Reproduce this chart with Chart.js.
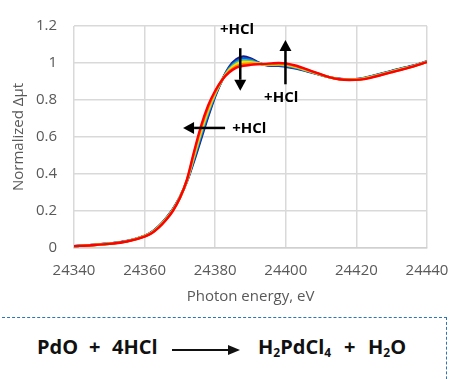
<!DOCTYPE html>
<html>
<head>
<meta charset="utf-8">
<script src="https://cdn.jsdelivr.net/npm/chart.js@4.4.1/dist/chart.umd.min.js"></script>
<style>
  body { margin: 0; background: #fff; width: 450px; height: 379px; overflow: hidden; position: relative; font-family: "Open Sans", sans-serif; }
  #wrap { position: absolute; left: 0; top: 0; width: 450px; height: 310px; }
  #box { position: absolute; left: -3px; top: 317px; width: 448px; height: 90px; border: 1.5px dashed #2e75b6; }
  .eq { position: absolute; top: 333px; font-weight: 700; font-size: 20px; color: #111; white-space: nowrap; }
  .eq sub { font-size: 12px; vertical-align: -3px; line-height: 0; }
  #arr { position: absolute; left: 172px; top: 344px; }
</style>
</head>
<body>
<div id="wrap"><canvas id="chart"></canvas></div>
<div id="box"></div>
<span class="eq" style="left:37px">PdO</span>
<span class="eq" style="left:89px">+</span>
<span class="eq" style="left:112px">4HCl</span>
<svg id="arr" width="70" height="12"><line x1="0" y1="6" x2="60" y2="6" stroke="#111" stroke-width="2"/><polygon points="56,1 68,6 56,11" fill="#111"/></svg>
<span class="eq" style="left:258px">H<sub>2</sub>PdCl<sub>4</sub></span>
<span class="eq" style="left:344px">+</span>
<span class="eq" style="left:368px">H<sub>2</sub>O</span>
<script>
// --- données ---
const energies = [24340,24345,24350,24355,24360,24362,24364,24366,24368,24370,24372,24374,24376,24378,24380,24382,24384,24386,24388,24390,24392,24394,24396,24398,24400,24403,24406,24409,24412,24415,24418,24421,24424,24427,24430,24433,24436,24440];

const navy   = [.010,.016,.024,.038,.066,.086,.118,.160,.210,.275,.360,.470,.590,.710,.820,.910,.980,1.020,1.035,1.025,1.005,.990,.985,.985,.980,.970,.955,.940,.925,.915,.912,.915,.928,.942,.957,.972,.985,1.008];
const blue   = [.010,.016,.024,.037,.065,.085,.116,.158,.208,.274,.362,.480,.604,.722,.826,.910,.974,1.011,1.025,1.018,1.003,.991,.988,.988,.984,.973,.957,.941,.925,.914,.911,.914,.926,.941,.956,.971,.984,1.007];
const cyan   = [.010,.015,.023,.037,.064,.084,.115,.156,.206,.273,.364,.490,.618,.734,.832,.910,.968,1.002,1.015,1.011,1.000,.992,.990,.991,.987,.976,.959,.942,.925,.914,.910,.913,.925,.939,.954,.969,.983,1.007];
const green  = [.010,.015,.023,.036,.064,.083,.114,.155,.205,.272,.365,.495,.625,.740,.835,.910,.965,.998,1.010,1.008,.999,.992,.991,.992,.989,.977,.960,.942,.925,.913,.910,.912,.924,.938,.953,.968,.982,1.006];
const yellow = [.010,.015,.023,.036,.064,.082,.113,.154,.204,.272,.366,.500,.632,.746,.838,.910,.962,.993,1.005,1.004,.998,.993,.993,.994,.991,.979,.961,.943,.925,.913,.910,.912,.923,.938,.953,.968,.982,1.006];
const orange = [.010,.015,.022,.036,.063,.081,.112,.152,.202,.271,.368,.510,.646,.758,.844,.910,.956,.984,.995,.997,.995,.994,.995,.997,.994,.982,.963,.944,.925,.913,.909,.911,.922,.936,.951,.966,.981,1.006];
const red    = [.010,.015,.022,.035,.062,.080,.110,.150,.200,.270,.370,.520,.660,.770,.850,.910,.950,.975,.985,.990,.993,.995,.998,1.000,.998,.985,.965,.945,.925,.912,.908,.910,.920,.935,.950,.965,.980,1.005];

const xTicks = [24340, 24360, 24380, 24400, 24420, 24440];
const yTicks = [0, 0.2, 0.4, 0.6, 0.8, 1, 1.2];

// flèches et textes "+HCl" (coordonnées des axes)
const arrows = [
  { x1: 24387.1, y1: 1.08, x2: 24387.1, y2: 0.85 },
  { x1: 24399.9, y1: 0.885, x2: 24399.9, y2: 1.125 },
  { x1: 24382.8, y1: 0.649, x2: 24370.9, y2: 0.649 }
];
const labels = [
  { x: 24386.2, y: 1.182, align: 'center', text: '+HCl' },
  { x: 24398.7, y: 0.812, align: 'center', text: '+HCl' },
  { x: 24384.8, y: 0.644, align: 'left', text: '+HCl' }
];

// --- construction ---
const series = [
  { d: red, c: '#ff0000' },
  { d: orange, c: '#ff8a00' },
  { d: yellow, c: '#ffe000' },
  { d: green, c: '#5cc85c' },
  { d: cyan, c: '#14c0e8' },
  { d: blue, c: '#1060e0' },
  { d: navy, c: '#1c1a80' }
];

const datasets = series.map(s => ({
  data: energies.map((e, i) => ({ x: e, y: s.d[i] })),
  borderColor: s.c,
  borderWidth: 2.4,
  pointRadius: 0,
  fill: false,
  cubicInterpolationMode: 'monotone'
}));

const annot = {
  id: 'annot',
  afterDatasetsDraw(chart) {
    const { ctx, scales: { x, y } } = chart;
    ctx.save();
    ctx.strokeStyle = '#000';
    ctx.fillStyle = '#000';
    ctx.lineWidth = 2.5;
    arrows.forEach(a => {
      const px1 = x.getPixelForValue(a.x1), py1 = y.getPixelForValue(a.y1);
      const px2 = x.getPixelForValue(a.x2), py2 = y.getPixelForValue(a.y2);
      const ang = Math.atan2(py2 - py1, px2 - px1);
      const hl = 11, hw = 6;
      const bx = px2 - hl * Math.cos(ang), by = py2 - hl * Math.sin(ang);
      ctx.beginPath();
      ctx.moveTo(px1, py1);
      ctx.lineTo(bx, by);
      ctx.stroke();
      ctx.beginPath();
      ctx.moveTo(px2, py2);
      ctx.lineTo(bx + hw * Math.sin(ang), by - hw * Math.cos(ang));
      ctx.lineTo(bx - hw * Math.sin(ang), by + hw * Math.cos(ang));
      ctx.closePath();
      ctx.fill();
    });
    ctx.font = 'bold 15px "Open Sans"';
    ctx.textBaseline = 'middle';
    labels.forEach(l => {
      ctx.textAlign = l.align;
      ctx.fillText(l.text, x.getPixelForValue(l.x), y.getPixelForValue(l.y));
    });
    ctx.restore();
  }
};

new Chart(document.getElementById('chart'), {
  type: 'line',
  data: { datasets },
  options: {
    responsive: true,
    maintainAspectRatio: false,
    animation: false,
    layout: { padding: { top: 14, right: 0, left: 0, bottom: 0 } },
    plugins: { legend: { display: false }, tooltip: { enabled: false } },
    scales: {
      x: {
        type: 'linear',
        min: 24340, max: 24440,
        afterBuildTicks: s => { s.ticks = xTicks.map(v => ({ value: v })); },
        afterFit: s => { s.height = 62; s.paddingRight = 23; s.paddingLeft = 0; },
        grid: { color: '#d9d9d9', lineWidth: 1.5, drawTicks: false },
        border: { color: '#d0d0d0', width: 1.5 },
        ticks: { color: '#595959', font: { family: 'Open Sans', size: 15 }, padding: 14, maxRotation: 0, callback: v => String(v) },
        title: { display: true, text: 'Photon energy, eV', color: '#595959', font: { family: 'Open Sans', size: 15 }, padding: { top: 2, bottom: 4 } }
      },
      y: {
        min: 0, max: 1.2,
        afterBuildTicks: s => { s.ticks = yTicks.map(v => ({ value: v })); },
        afterFit: s => { s.width = 74; },
        grid: { color: '#d9d9d9', lineWidth: 1.5, drawTicks: false },
        border: { display: false },
        ticks: { color: '#595959', font: { family: 'Open Sans', size: 15 }, padding: 17, callback: v => String(Math.round(v * 10) / 10) },
        title: { display: true, text: 'Normalized Δμt', color: '#595959', font: { family: 'Open Sans', size: 15 }, padding: { top: 10, bottom: 4 } }
      }
    }
  },
  plugins: [annot]
});
</script>
</body>
</html>
